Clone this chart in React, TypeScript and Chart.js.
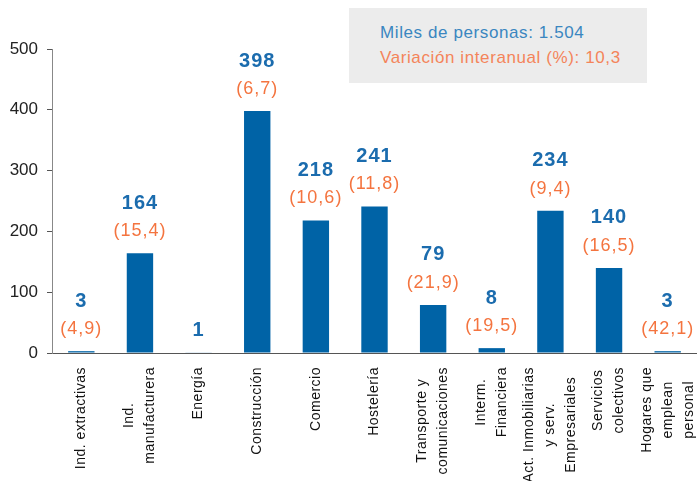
import React, { useEffect, useRef } from "react";
import { Chart, registerables } from "chart.js";

Chart.register(...registerables);

const categories: string[][] = [
  ["Ind. extractivas"],
  ["Ind.", "manufacturera"],
  ["Energía"],
  ["Construcción"],
  ["Comercio"],
  ["Hostelería"],
  ["Transporte y", "comunicaciones"],
  ["Interm.", "Financiera"],
  ["Act. Inmobiliarias", "y serv.", "Empresariales"],
  ["Servicios", "colectivos"],
  ["Hogares que", "emplean", "personal"],
];
const values: number[] = [3, 164, 1, 398, 218, 241, 79, 8, 234, 140, 3];
const variations: (string | null)[] = ["4,9", "15,4", null, "6,7", "10,6", "11,8", "21,9", "19,5", "9,4", "16,5", "42,1"];
const yTicks: number[] = [0, 100, 200, 300, 400, 500];
const legendLines: string[] = ["Miles de personas: 1.504", "Variación interanual (%): 10,3"];

const BAR = "#0063a6";
const BLUE = "#1b6cae";
const ORANGE = "#f4743f";
const FONT = "'Liberation Sans', Arial, Helvetica, sans-serif";

const labelPlugin = {
  id: "customLabels",
  afterDraw(chart: any) {
    const ctx = chart.ctx;
    const meta = chart.getDatasetMeta(0);
    const xScale = chart.scales.x;
    ctx.save();
    meta.data.forEach((bar: any, i: number) => {
      const x = bar.x;
      const top = bar.y;
      ctx.textAlign = "center";
      ctx.textBaseline = "middle";
      const v = variations[i];
      if (v !== null) {
        ctx.fillStyle = ORANGE;
        ctx.font = `18px ${FONT}`;
        ctx.letterSpacing = "1px";
        ctx.fillText(`(${v})`, x, top - 22);
        ctx.fillStyle = BLUE;
        ctx.font = `bold 20px ${FONT}`;
        ctx.fillText(String(values[i]), x, top - 50);
      } else {
        ctx.fillStyle = BLUE;
        ctx.font = `bold 20px ${FONT}`;
        ctx.letterSpacing = "1px";
        ctx.fillText(String(values[i]), x, top - 22);
      }
    });
    // x category labels, rotated
    ctx.fillStyle = "#111";
    ctx.font = `14px ${FONT}`;
    ctx.letterSpacing = "0.5px";
    const blockTop = xScale.top + 14;
    const lineGap = 21;
    categories.forEach((lines, i) => {
      const cx = xScale.getPixelForValue(i);
      const maxW = Math.max(...lines.map((l) => ctx.measureText(l).width));
      const n = lines.length;
      lines.forEach((line, j) => {
        const lx = cx + (j - (n - 1) / 2) * lineGap;
        const ly = blockTop + maxW / 2;
        ctx.save();
        ctx.translate(lx, ly);
        ctx.rotate(-Math.PI / 2);
        ctx.textAlign = "center";
        ctx.textBaseline = "middle";
        ctx.fillText(line, 0, 0);
        ctx.restore();
      });
    });
    ctx.restore();
  },
};

export default function App() {
  const ref = useRef<HTMLCanvasElement | null>(null);
  useEffect(() => {
    document.body.style.margin = "0";
    const chart = new Chart(ref.current as HTMLCanvasElement, {
      type: "bar",
      data: {
        labels: categories.map((c) => c.join(" ")),
        datasets: [
          {
            data: values,
            backgroundColor: BAR,
            borderWidth: 0,
            barPercentage: 0.45,
            categoryPercentage: 1,
          },
        ],
      },
      options: {
        animation: false,
        responsive: false,
        layout: { padding: { top: 49, right: 0, left: 0, bottom: 0 } },
        plugins: { legend: { display: false }, tooltip: { enabled: false } },
        scales: {
          x: {
            grid: { display: false, drawTicks: false },
            border: { color: "#555", width: 1 },
            ticks: { display: false },
            afterFit: (s: any) => {
              s.height = 128;
            },
          },
          y: {
            min: 0,
            max: 500,
            afterBuildTicks: (s: any) => {
              s.ticks = yTicks.map((v) => ({ value: v }));
            },
            grid: { display: true, drawOnChartArea: false, drawTicks: true, tickLength: 5, color: "#555" },
            border: { color: "#888", width: 1 },
            ticks: {
              color: "#222",
              padding: 9,
              font: { size: 17, family: FONT },
            },
            afterFit: (s: any) => {
              s.width = 52;
            },
          },
        },
      },
      plugins: [labelPlugin],
    });
    return () => chart.destroy();
  }, []);
  return (
    <div style={{ position: "relative", width: 697, height: 481 }}>
      <canvas ref={ref} width={697} height={481} style={{ display: "block" }} />
      <div
        style={{
          position: "absolute",
          left: 349,
          top: 8,
          width: 298,
          height: 75,
          background: "#ececec",
          fontFamily: FONT,
          fontSize: 17,
          letterSpacing: "0.6px",
          lineHeight: "25px",
          boxSizing: "border-box",
          paddingLeft: 31,
          paddingTop: 12,
        }}
      >
        <div style={{ color: "#3a86c0" }}>{legendLines[0]}</div>
        <div style={{ color: "#f4845a" }}>{legendLines[1]}</div>
      </div>
    </div>
  );
}
